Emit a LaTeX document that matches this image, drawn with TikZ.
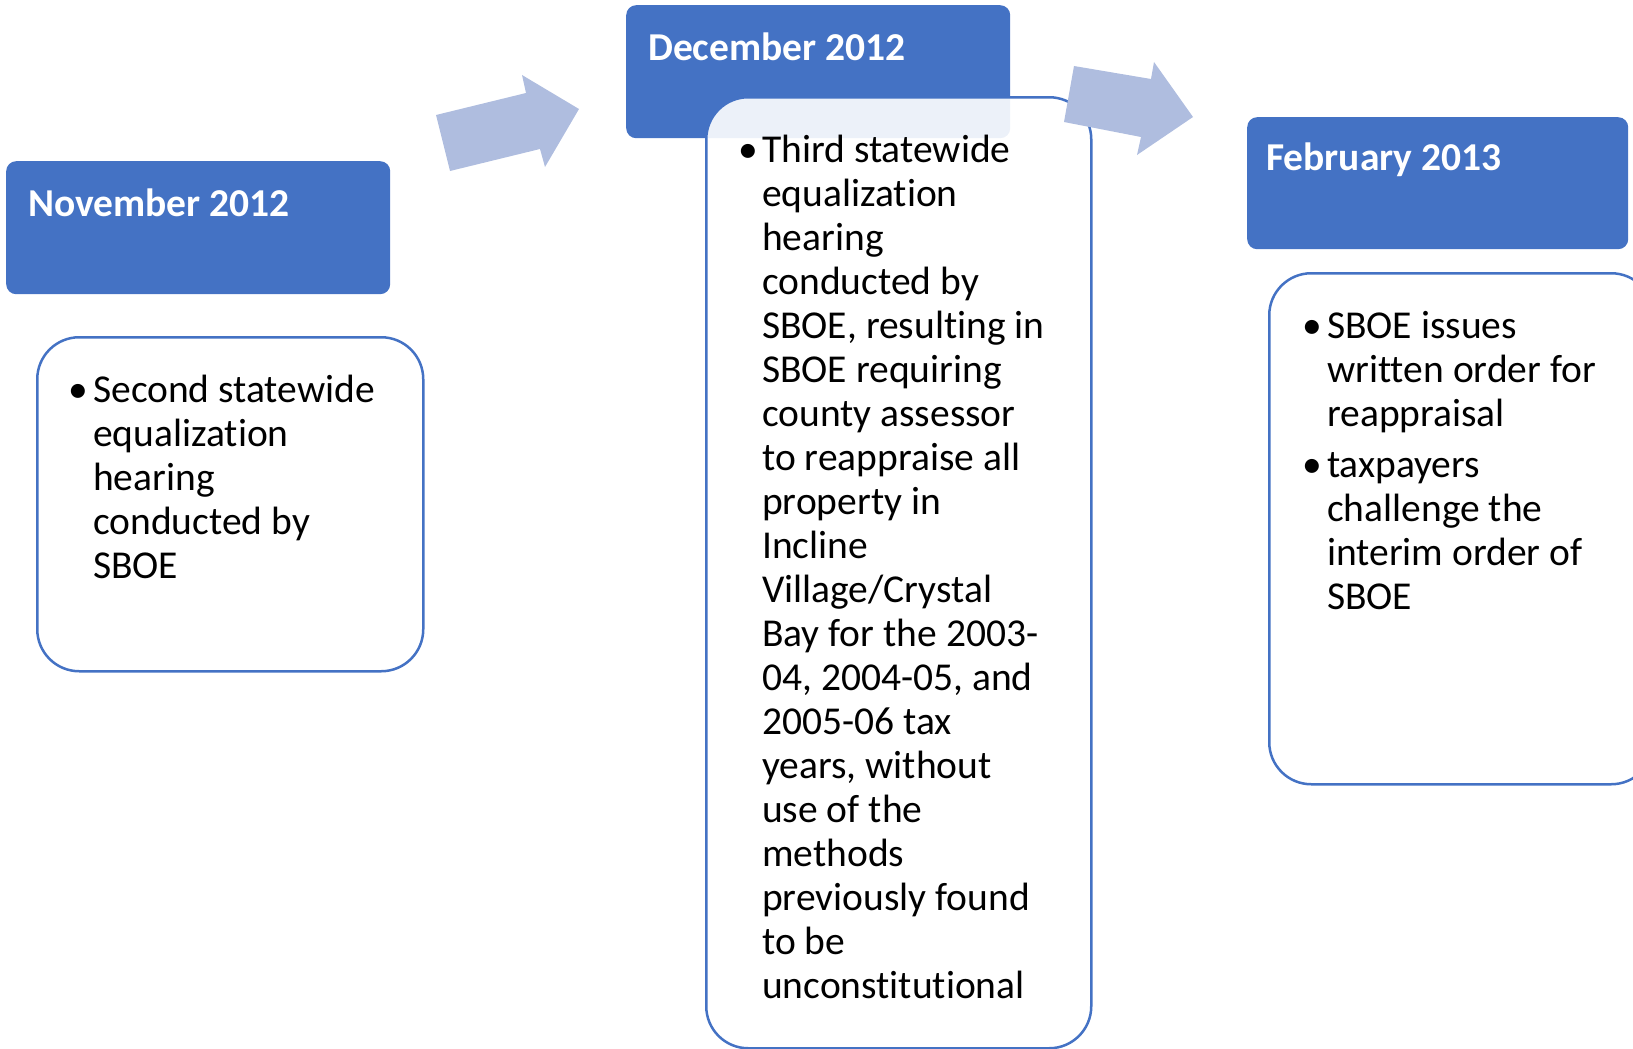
\documentclass[tikz,border=0pt]{standalone}
\usepackage{fontspec}
\setmainfont{Carlito}[RawFeature={-liga;-clig}]
\definecolor{hblue}{RGB}{68,114,196}
\definecolor{arrowblue}{RGB}{175,189,223}
\tikzset{
  hdrbox/.style={fill=hblue, draw=none, rounded corners=10pt, inner sep=0pt, anchor=north west},
  bodybox/.style={draw=hblue, line width=2.5pt, fill=white, rounded corners=42pt, inner sep=0pt, anchor=north west},
  hdrtext/.style={text=white, font=\fontsize{39.5pt}{44pt}\selectfont\bfseries, inner sep=0pt, anchor=base west},
  bodytext/.style={text=black, font=\fontsize{39.5pt}{44pt}\selectfont, inner sep=0pt, anchor=base west},
  bulletmark/.style={text=black, font=\fontsize{39.5pt}{44pt}\selectfont, inner sep=0pt, anchor=base west},
  blockarrow/.style={fill=arrowblue, draw=none}
}
\begin{document}
\begin{tikzpicture}[x=1pt,y=-1pt]
\useasboundingbox (0,0) rectangle (1633,1049);

% November 2012
\node[hdrbox, minimum width=384pt, minimum height=133pt] (novH) at (6,161) {};
\node[hdrtext] (novHT) at (28,216) {November 2012};
\node[bodybox, minimum width=386pt, minimum height=334pt] (novB) at (36,336) {};
\node[bulletmark] (novBul) at (68,402) {•};
\node[bodytext] (novT) at (93,402) {\begin{tabular}[t]{@{}l@{}}Second statewide\\ equalization\\ hearing\\ conducted by\\ SBOE\end{tabular}};

% arrow 1
\fill[blockarrow] (436,115) coordinate (a1a) -- (526,93) -- (522,75) -- (579,109) coordinate (a1tip) -- (545,167) -- (540,149) -- (450,171) -- cycle;

% December 2012
\node[hdrbox, minimum width=384pt, minimum height=133pt] (decH) at (626,5) {};
\node[hdrtext] (decHT) at (648,60) {December 2012};
\node[bodybox, fill opacity=0.9, minimum width=385pt, minimum height=951pt] (decB) at (705,96) {};
\node[bulletmark] (decBul) at (738,162) {•};
\node[bodytext] (decT) at (762,162) {\begin{tabular}[t]{@{}l@{}}Third statewide\\ equalization\\ hearing\\ conducted by\\ SBOE, resulting in\\ SBOE requiring\\ county assessor\\ to reappraise all\\ property in\\ Incline\\ Village/Crystal\\ Bay for the 2003-\\ 04, 2004-05, and\\ 2005-06 tax\\ years, without\\ use of the\\ methods\\ previously found\\ to be\\ unconstitutional\end{tabular}};

% arrow 2
\fill[blockarrow] (1074,66) coordinate (a2a) -- (1151,79) -- (1154,62) -- (1193,117) coordinate (a2tip) -- (1137,155) -- (1141,137) -- (1064,122) -- cycle;

% February 2013
\node[hdrbox, minimum width=381pt, minimum height=132pt] (febH) at (1247,117) {};
\node[hdrtext] (febHT) at (1266,170) {February 2013};
\node[bodybox, minimum width=384pt, minimum height=511pt] (febB) at (1268,272) {};
\node[bulletmark] (febBul1) at (1302,338) {•};
\node[bodytext] (febT1) at (1327,338) {\begin{tabular}[t]{@{}l@{}}SBOE issues\\ written order for\\ reappraisal\end{tabular}};
\node[bulletmark] (febBul2) at (1302,477) {•};
\node[bodytext] (febT2) at (1327,477) {\begin{tabular}[t]{@{}l@{}}taxpayers\\ challenge the\\ interim order of\\ SBOE\end{tabular}};
\end{tikzpicture}
\end{document}
